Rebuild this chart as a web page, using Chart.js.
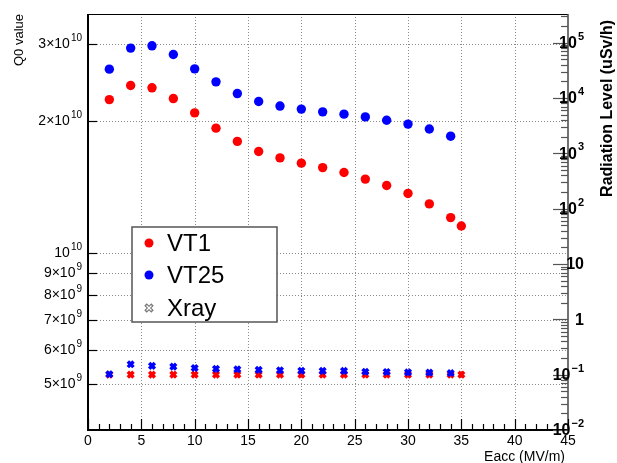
<!DOCTYPE html>
<html>
<head>
<meta charset="utf-8">
<script src="https://cdn.jsdelivr.net/npm/chart.js@4/dist/chart.umd.min.js"></script>
<style>
  body { margin: 0; background: #fff; }
  #c { display: block; }
</style>
</head>
<body>
<canvas id="c" width="617" height="463"></canvas>
<script>
// Eacc points (MV/m)
const vt1Eacc = [2, 4, 6, 8, 10, 12, 14, 16, 18, 20, 22, 24, 26, 28, 30, 32, 34, 35]
const vt25Eacc = [2, 4, 6, 8, 10, 12, 14, 16, 18, 20, 22, 24, 26, 28, 30, 32, 34]

// Q0 values
const vt1Q0 = [2.237e10, 2.409e10, 2.380e10, 2.249e10, 2.086e10, 1.925e10, 1.795e10, 1.702e10, 1.646e10,
  1.601e10, 1.564e10, 1.524e10, 1.472e10, 1.423e10, 1.365e10, 1.292e10, 1.202e10, 1.150e10]
const vt25Q0 = [2.626e10, 2.933e10, 2.969e10, 2.836e10, 2.630e10, 2.456e10, 2.309e10, 2.214e10, 2.162e10,
  2.128e10, 2.097e10, 2.072e10, 2.042e10, 2.007e10, 1.966e10, 1.916e10, 1.845e10]

// Radiation level (uSv/h)
const vt1Xray = [0.100, 0.100, 0.100, 0.100, 0.100, 0.100, 0.100, 0.100, 0.100,
  0.100, 0.100, 0.100, 0.100, 0.100, 0.100, 0.100, 0.100, 0.100]
const vt25Xray = [0.102, 0.154, 0.144, 0.140, 0.132, 0.127, 0.125, 0.122, 0.120,
  0.118, 0.117, 0.117, 0.113, 0.112, 0.110, 0.109, 0.107]

// tick labels
const xTicks = [0, 5, 10, 15, 20, 25, 30, 35, 40, 45]
const q0Ticks = [5e9, 6e9, 7e9, 8e9, 9e9, 1e10, 2e10, 3e10]
const q0TickLabels = ['5×10^9', '6×10^9', '7×10^9', '8×10^9', '9×10^9', '10^10', '2×10^10', '3×10^10']
const radTicks = [1e-2, 1e-1, 1, 10, 1e2, 1e3, 1e4, 1e5]
const radTickLabels = ['10^−2', '10^−1', '1', '10', '10^2', '10^3', '10^4', '10^5']

const legendLabels = ['VT1', 'VT25', 'Xray']

const FONT = '"Liberation Sans", Arial, Helvetica, sans-serif'

const pts = (xs, ys) => xs.map((x, i) => ({ x: x, y: ys[i] }))

// text with "^" exponent
function supText (ctx, text, x, y, align, size, weight) {
  const parts = text.split('^')
  const base = parts[0]
  const exp = parts[1] || ''
  const bf = weight + ' ' + size + 'px ' + FONT
  const sf = weight + ' ' + Math.round(size * 0.7) + 'px ' + FONT
  ctx.font = bf
  const bw = ctx.measureText(base).width
  ctx.font = sf
  const ew = exp ? ctx.measureText(exp).width + 1 : 0
  const w = bw + ew
  let x0 = x
  if (align === 'right') x0 = x - w
  if (align === 'center') x0 = x - w / 2
  ctx.textAlign = 'left'
  ctx.textBaseline = 'middle'
  ctx.font = bf
  ctx.fillText(base, x0, y)
  if (exp) {
    ctx.font = sf
    ctx.fillText(exp, x0 + bw + 1, y - size * 0.45)
  }
}

// dotted grid under the points
const rootGrid = {
  id: 'rootGrid',
  beforeDatasetsDraw (chart) {
    const ctx = chart.ctx
    const a = chart.chartArea
    const sx = chart.scales.x
    const sy = chart.scales.y
    ctx.save()
    ctx.strokeStyle = '#8a8a8a'
    ctx.lineWidth = 1
    ctx.setLineDash([1, 2])
    xTicks.forEach(v => {
      if (v === sx.min || v === sx.max) return
      const px = Math.round(sx.getPixelForValue(v)) + 0.5
      ctx.beginPath()
      ctx.moveTo(px, a.top)
      ctx.lineTo(px, a.bottom)
      ctx.stroke()
    })
    q0Ticks.forEach(v => {
      const py = Math.round(sy.getPixelForValue(v)) + 0.5
      ctx.beginPath()
      ctx.moveTo(a.left, py)
      ctx.lineTo(a.right, py)
      ctx.stroke()
    })
    ctx.restore()
  }
}

const rootFrame = {
  id: 'rootFrame',
  afterDraw (chart) {
    const ctx = chart.ctx
    const a = chart.chartArea
    const sx = chart.scales.x
    const sy = chart.scales.y
    const sy2 = chart.scales.y2
    ctx.save()
    ctx.fillStyle = '#000'

    // frame
    ctx.strokeStyle = '#000'
    ctx.lineWidth = 1
    ctx.beginPath()
    ctx.moveTo(a.left, a.top + 0.5)
    ctx.lineTo(a.right, a.top + 0.5)
    ctx.stroke()
    ctx.lineWidth = 2
    ctx.beginPath()
    ctx.moveTo(a.left, a.top)
    ctx.lineTo(a.left, a.bottom)
    ctx.lineTo(a.right, a.bottom)
    ctx.stroke()
    ctx.strokeStyle = '#444'
    ctx.lineWidth = 1.5
    ctx.beginPath()
    ctx.moveTo(a.right, a.top)
    ctx.lineTo(a.right, a.bottom)
    ctx.stroke()

    // x ticks
    ctx.strokeStyle = '#000'
    ctx.lineWidth = 1.2
    for (let v = sx.min; v <= sx.max; v++) {
      const px = Math.round(sx.getPixelForValue(v)) + 0.5
      const len = v % 5 === 0 ? 11 : 6
      ctx.beginPath()
      ctx.moveTo(px, a.bottom)
      ctx.lineTo(px, a.bottom - len)
      ctx.stroke()
    }
    ctx.font = '14px ' + FONT
    ctx.textAlign = 'center'
    ctx.textBaseline = 'middle'
    xTicks.forEach(v => {
      ctx.fillText(String(v), sx.getPixelForValue(v), a.bottom + 11)
    })

    // left ticks
    q0Ticks.forEach((v, i) => {
      const py = Math.round(sy.getPixelForValue(v)) + 0.5
      ctx.beginPath()
      ctx.moveTo(a.left, py)
      ctx.lineTo(a.left + 9, py)
      ctx.stroke()
      supText(ctx, q0TickLabels[i], a.left - 6, py, 'right', 14, 'normal')
    })

    // right ticks (log)
    ctx.strokeStyle = '#555'
    for (let d = -2; d <= 5; d++) {
      for (let m = 1; m <= 9; m++) {
        const v = m * Math.pow(10, d)
        if (v < sy2.min || v > sy2.max) continue
        const py = Math.round(sy2.getPixelForValue(v)) + 0.5
        const len = m === 1 ? 15 : 7
        ctx.beginPath()
        ctx.moveTo(a.right, py)
        ctx.lineTo(a.right - len, py)
        ctx.stroke()
      }
    }
    ctx.fillStyle = '#000'
    radTicks.forEach((v, i) => {
      supText(ctx, radTickLabels[i], a.right + 16, sy2.getPixelForValue(v) + 1, 'right', 16, 'bold')
    })

    // axis titles
    ctx.font = '14px ' + FONT
    ctx.textAlign = 'right'
    ctx.textBaseline = 'alphabetic'
    ctx.fillText('Eacc (MV/m)', a.right - 3, 461)

    ctx.save()
    ctx.translate(23, a.top)
    ctx.rotate(-Math.PI / 2)
    ctx.font = '13px ' + FONT
    ctx.textAlign = 'right'
    ctx.textBaseline = 'alphabetic'
    ctx.fillText('Q0 value', 0, 0)
    ctx.restore()

    ctx.save()
    ctx.translate(612, a.top + 6)
    ctx.rotate(-Math.PI / 2)
    ctx.font = 'bold 16px ' + FONT
    ctx.textAlign = 'right'
    ctx.textBaseline = 'alphabetic'
    ctx.fillText('Radiation Level (uSv/h)', 0, 0)
    ctx.restore()

    // legend box
    const lx = 132
    const ly = 227
    const lw = 145
    const lh = 95
    ctx.fillStyle = '#fff'
    ctx.fillRect(lx, ly, lw, lh)
    ctx.strokeStyle = '#555'
    ctx.lineWidth = 1.5
    ctx.strokeRect(lx, ly, lw, lh)
    const rows = [243, 275, 308]
    const colors = ['#ff0000', '#0000ff', '#777']
    rows.forEach((ry, i) => {
      if (i < 2) {
        ctx.fillStyle = colors[i]
        ctx.beginPath()
        ctx.arc(149, ry, 4.5, 0, Math.PI * 2)
        ctx.fill()
      } else {
        ctx.strokeStyle = '#777'
        ctx.lineWidth = 3.5
        ctx.beginPath()
        ctx.moveTo(145.5, ry - 3.5); ctx.lineTo(152.5, ry + 3.5)
        ctx.moveTo(152.5, ry - 3.5); ctx.lineTo(145.5, ry + 3.5)
        ctx.stroke()
        ctx.strokeStyle = '#fff'
        ctx.lineWidth = 1.2
        ctx.beginPath()
        ctx.moveTo(146.5, ry - 2.5); ctx.lineTo(151.5, ry + 2.5)
        ctx.moveTo(151.5, ry - 2.5); ctx.lineTo(146.5, ry + 2.5)
        ctx.stroke()
      }
      ctx.fillStyle = '#000'
      ctx.font = '24px ' + FONT
      ctx.textAlign = 'left'
      ctx.textBaseline = 'middle'
      ctx.fillText(legendLabels[i], 167, ry + 1)
    })
    ctx.restore()
  }
}

new Chart(document.getElementById('c'), {
  type: 'scatter',
  data: {
    datasets: [
      {
        label: 'VT1',
        data: pts(vt1Eacc, vt1Q0),
        yAxisID: 'y',
        pointStyle: 'circle',
        pointRadius: 4.7,
        pointBorderWidth: 0,
        backgroundColor: '#ff0000',
        order: 3
      },
      {
        label: 'VT25',
        data: pts(vt25Eacc, vt25Q0),
        yAxisID: 'y',
        pointStyle: 'circle',
        pointRadius: 4.7,
        pointBorderWidth: 0,
        backgroundColor: '#0000ff',
        order: 2
      },
      {
        label: 'VT1 Xray',
        data: pts(vt1Eacc, vt1Xray),
        yAxisID: 'y2',
        pointStyle: 'crossRot',
        pointRadius: 4,
        borderWidth: 3.5,
        borderColor: '#ff0000',
        backgroundColor: '#ff0000',
        order: 1
      },
      {
        label: 'VT25 Xray',
        data: pts(vt25Eacc, vt25Xray),
        yAxisID: 'y2',
        pointStyle: 'crossRot',
        pointRadius: 4,
        borderWidth: 3.5,
        borderColor: '#0000ff',
        backgroundColor: '#0000ff',
        order: 0
      }
    ]
  },
  options: {
    responsive: false,
    animation: false,
    events: [],
    layout: { padding: { top: 14, left: 0, right: 0, bottom: 0 } },
    plugins: {
      legend: { display: false },
      tooltip: { enabled: false }
    },
    scales: {
      x: {
        type: 'linear',
        min: 0,
        max: 45,
        ticks: { display: false, stepSize: 5 },
        grid: { display: false },
        border: { display: false },
        afterFit: (s) => { s.height = 33 }
      },
      y: {
        type: 'logarithmic',
        position: 'left',
        min: 3.93e9,
        max: 3.51e10,
        ticks: { display: false },
        grid: { display: false },
        border: { display: false },
        afterFit: (s) => { s.width = 88 }
      },
      y2: {
        type: 'logarithmic',
        position: 'right',
        min: 0.01,
        max: 3.3e5,
        ticks: { display: false },
        grid: { display: false },
        border: { display: false },
        afterFit: (s) => { s.width = 49 }
      }
    }
  },
  plugins: [rootGrid, rootFrame]
})
</script>
</body>
</html>
